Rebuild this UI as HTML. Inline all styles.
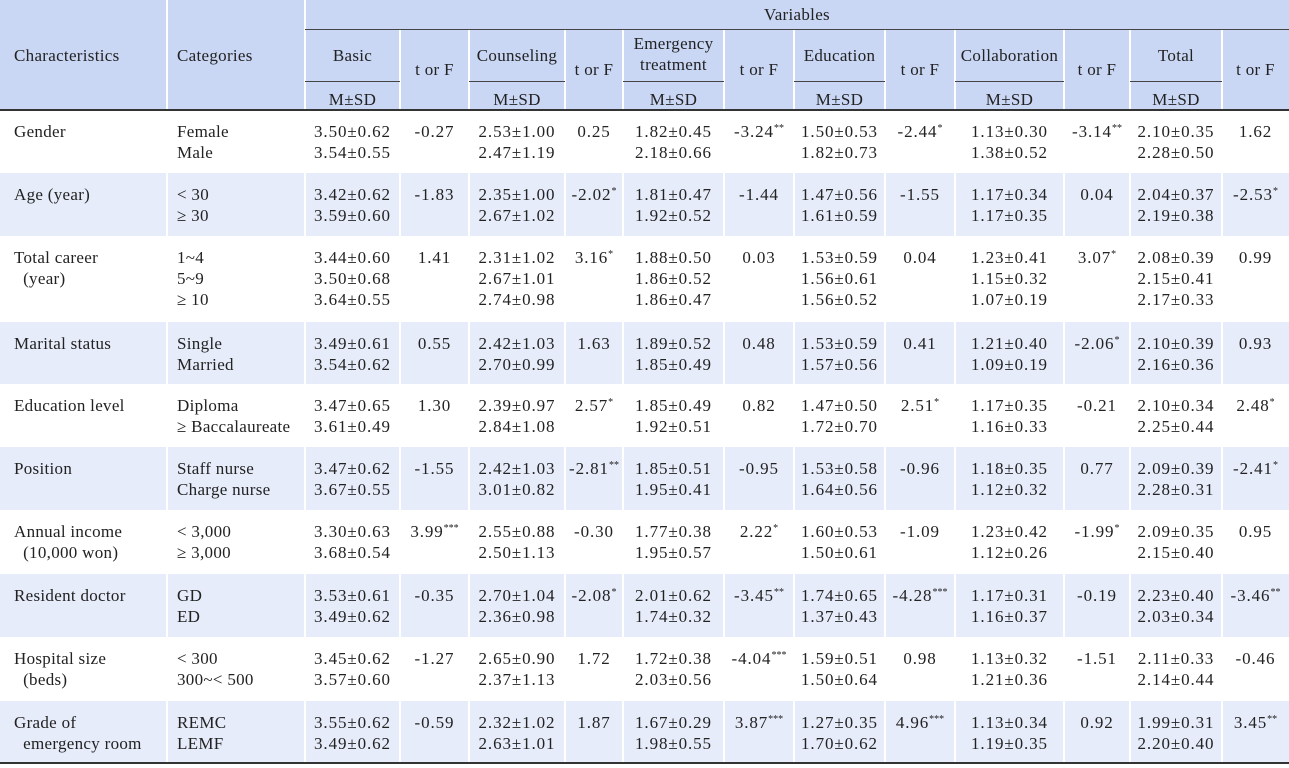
<!DOCTYPE html>
<html><head><meta charset="utf-8">
<style>
body{margin:0;width:1289px;height:768px;background:#fff;overflow:hidden;font-family:"Liberation Serif","Noto Serif CJK SC",serif;color:#222;}
#t{position:relative;width:1289px;height:768px;}
.c{position:absolute;font-size:17px;line-height:21px;white-space:nowrap;letter-spacing:0.3px;}
.n{letter-spacing:0.9px;}
.bg{position:absolute;}
.vl{position:absolute;width:2px;background:#fff;}
.hl{position:absolute;height:1px;background:#444;}
sup{font-size:10px;vertical-align:6px;line-height:0;letter-spacing:0;}
</style></head><body>
<div id="t"></div>
<script>
const colX=[0,167,305,400,469,565,623,724,794,885,955,1064,1130,1222,1289];
const groups=["Basic","Counseling","Emergency<br>treatment","Education","Collaboration","Total"];
const rowNames=["Gender","Age (year)","Total career<br>&nbsp;&nbsp;(year)","Marital status","Education level","Position","Annual income<br>&nbsp;&nbsp;(10,000 won)","Resident doctor","Hospital size<br>&nbsp;&nbsp;(beds)","Grade of<br>&nbsp;&nbsp;emergency room"];
const cats=[["Female","Male"],["&lt; 30","≥ 30"],["1~4","5~9","≥ 10"],["Single","Married"],["Diploma","≥ Baccalaureate"],["Staff nurse","Charge nurse"],["&lt; 3,000","≥ 3,000"],["GD","ED"],["&lt; 300","300~&lt; 500"],["REMC","LEMF"]];
const vals=[
[["3.50±0.62","3.54±0.55"],"-0.27",["2.53±1.00","2.47±1.19"],"0.25",["1.82±0.45","2.18±0.66"],"-3.24**",["1.50±0.53","1.82±0.73"],"-2.44*",["1.13±0.30","1.38±0.52"],"-3.14**",["2.10±0.35","2.28±0.50"],"1.62"],
[["3.42±0.62","3.59±0.60"],"-1.83",["2.35±1.00","2.67±1.02"],"-2.02*",["1.81±0.47","1.92±0.52"],"-1.44",["1.47±0.56","1.61±0.59"],"-1.55",["1.17±0.34","1.17±0.35"],"0.04",["2.04±0.37","2.19±0.38"],"-2.53*"],
[["3.44±0.60","3.50±0.68","3.64±0.55"],"1.41",["2.31±1.02","2.67±1.01","2.74±0.98"],"3.16*",["1.88±0.50","1.86±0.52","1.86±0.47"],"0.03",["1.53±0.59","1.56±0.61","1.56±0.52"],"0.04",["1.23±0.41","1.15±0.32","1.07±0.19"],"3.07*",["2.08±0.39","2.15±0.41","2.17±0.33"],"0.99"],
[["3.49±0.61","3.54±0.62"],"0.55",["2.42±1.03","2.70±0.99"],"1.63",["1.89±0.52","1.85±0.49"],"0.48",["1.53±0.59","1.57±0.56"],"0.41",["1.21±0.40","1.09±0.19"],"-2.06*",["2.10±0.39","2.16±0.36"],"0.93"],
[["3.47±0.65","3.61±0.49"],"1.30",["2.39±0.97","2.84±1.08"],"2.57*",["1.85±0.49","1.92±0.51"],"0.82",["1.47±0.50","1.72±0.70"],"2.51*",["1.17±0.35","1.16±0.33"],"-0.21",["2.10±0.34","2.25±0.44"],"2.48*"],
[["3.47±0.62","3.67±0.55"],"-1.55",["2.42±1.03","3.01±0.82"],"-2.81**",["1.85±0.51","1.95±0.41"],"-0.95",["1.53±0.58","1.64±0.56"],"-0.96",["1.18±0.35","1.12±0.32"],"0.77",["2.09±0.39","2.28±0.31"],"-2.41*"],
[["3.30±0.63","3.68±0.54"],"3.99***",["2.55±0.88","2.50±1.13"],"-0.30",["1.77±0.38","1.95±0.57"],"2.22*",["1.60±0.53","1.50±0.61"],"-1.09",["1.23±0.42","1.12±0.26"],"-1.99*",["2.09±0.35","2.15±0.40"],"0.95"],
[["3.53±0.61","3.49±0.62"],"-0.35",["2.70±1.04","2.36±0.98"],"-2.08*",["2.01±0.62","1.74±0.32"],"-3.45**",["1.74±0.65","1.37±0.43"],"-4.28***",["1.17±0.31","1.16±0.37"],"-0.19",["2.23±0.40","2.03±0.34"],"-3.46**"],
[["3.45±0.62","3.57±0.60"],"-1.27",["2.65±0.90","2.37±1.13"],"1.72",["1.72±0.38","2.03±0.56"],"-4.04***",["1.59±0.51","1.50±0.64"],"0.98",["1.13±0.32","1.21±0.36"],"-1.51",["2.11±0.33","2.14±0.44"],"-0.46"],
[["3.55±0.62","3.49±0.62"],"-0.59",["2.32±1.02","2.63±1.01"],"1.87",["1.67±0.29","1.98±0.55"],"3.87***",["1.27±0.35","1.70±0.62"],"4.96***",["1.13±0.34","1.19±0.35"],"0.92",["1.99±0.31","2.20±0.40"],"3.45**"]
];
const rowTop=[110,173,236,322,384,447,510,574,637,701,763];
const T=document.getElementById('t');
function mk(cls,css,html){const d=document.createElement('div');d.className=cls;d.style.cssText=css;if(html!==undefined)d.innerHTML=html;T.appendChild(d);return d;}
function fmtT(s){return s.replace(/(\*+)$/,'<sup>$1</sup>');}
let h=mk('bg','left:0;top:0;width:1289px;height:110px;background:#c9d7f5;');


for(let r=0;r<10;r++){if(r%2==1){let b=mk('bg','left:0;top:'+rowTop[r]+'px;width:1289px;height:'+(rowTop[r+1]-rowTop[r])+'px;background:#e6ecfa;');

}}
for(let i=1;i<colX.length-1;i++){
 let top=(i>=3)?30:0;
 let v=mk('vl','left:'+(colX[i]-1)+'px;top:'+top+'px;height:'+(763-top)+'px;');
 
 
}
let l1=mk('hl','left:'+colX[2]+'px;top:29px;width:'+(1289-colX[2])+'px;');


for(let g=0;g<6;g++){let a=colX[2+2*g],b=colX[3+2*g];
 let u=mk('hl','left:'+a+'px;top:81px;width:'+(b-a)+'px;');
 
 }
let hb=mk('hl','left:0;top:109px;width:1289px;height:2px;background:#333;');


let bb=mk('hl','left:0;top:762px;width:1289px;height:2px;background:#333;');


let vt=mk('c','left:'+colX[2]+'px;width:'+(1289-colX[2])+'px;top:4px;text-align:center;','Variables');


let ch=mk('c','left:14px;top:45px;','Characteristics');


let cg=mk('c','left:177px;top:45px;','Categories');


for(let g=0;g<6;g++){let a=colX[2+2*g],b=colX[3+2*g],c2=colX[4+2*g];
 let two=groups[g].indexOf('<br>')>=0;
 let gn=mk('c','left:'+a+'px;width:'+(b-a)+'px;text-align:center;top:'+(two?33:45)+'px;',groups[g]);
 
 
 let ms=mk('c','left:'+a+'px;width:'+(b-a)+'px;text-align:center;top:89px;','M±SD');
 
 
 let tf=mk('c','left:'+b+'px;width:'+(c2-b)+'px;text-align:center;top:59px;','t or F');
 
 }
for(let r=0;r<10;r++){const y=rowTop[r]+11;
 let rn=mk('c','left:14px;top:'+y+'px;',rowNames[r]);
 
 
 let cc=mk('c','left:177px;top:'+y+'px;',cats[r].join('<br>'));
 
 
 for(let k=0;k<12;k++){const a=colX[2+k],b=colX[3+k];const v=vals[r][k];
  const html=Array.isArray(v)?v.join('<br>'):fmtT(v);
  let cell=mk('c n','left:'+a+'px;width:'+(b-a)+'px;text-align:center;top:'+y+'px;',html);
  
  }
}
</script>
</body></html>
